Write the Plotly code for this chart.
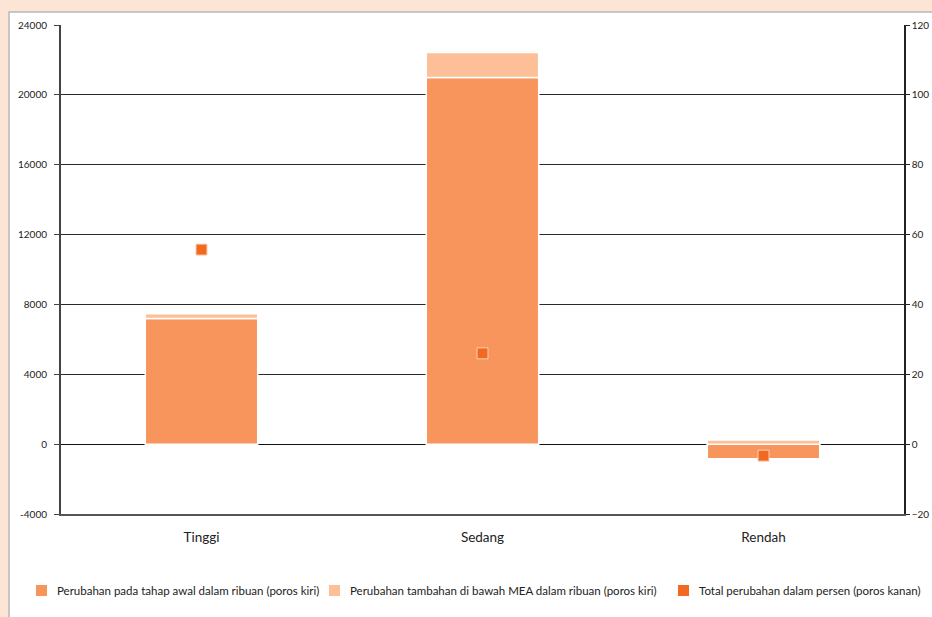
import plotly.graph_objects as go

categories = ["Tinggi", "Sedang", "Rendah"]
initial_change = [7200, 21000, -840]        # ribuan, poros kiri
additional_change = [260, 1420, 240]        # ribuan, poros kiri
total_pct = [55.7, 26.0, -3.3]              # persen, poros kanan

legend_names = [
    "Perubahan pada tahap awal dalam ribuan (poros kiri)",
    "Perubahan tambahan di bawah MEA dalam ribuan (poros kiri)",
    "Total perubahan dalam persen (poros kanan)",
]

left_ticks = [-4000, 0, 4000, 8000, 12000, 16000, 20000, 24000]
right_ticks = [-20, 0, 20, 40, 60, 80, 100, 120]

W, H = 932, 617
ML, MR, MT, MB = 61, 28, 25, 103
PW, PH = W - ML - MR, H - MT - MB

FONT = "Lato"
DARK, LIGHT, MARK = "#f7955c", "#fcbf98", "#f26a22"


def px_x(x):
    return (x - ML) / PW


def px_y(y):
    return 1 - (y - MT) / PH


fig = go.Figure()
fig.add_trace(go.Bar(
    x=categories, y=initial_change, name=legend_names[0],
    marker=dict(color=DARK, line=dict(color="white", width=1.5)),
    width=0.4,
))
fig.add_trace(go.Bar(
    x=categories, y=additional_change, name=legend_names[1],
    marker=dict(color=LIGHT, line=dict(color="white", width=1.5)),
    width=0.4,
))
fig.add_trace(go.Scatter(
    x=categories, y=total_pct, name=legend_names[2], yaxis="y2",
    mode="markers",
    marker=dict(symbol="square", size=11, color=MARK,
                line=dict(color="#fcd0b4", width=1)),
))

# white panel on a peach page
fig.add_shape(
    type="rect", xref="paper", yref="paper", layer="below",
    x0=px_x(9), x1=px_x(W + 5), y0=px_y(H + 10), y1=px_y(12),
    fillcolor="white", line=dict(color="#b8b8b8", width=1.5),
)

# legend row below the plot
legend_items = [(36, 55, DARK), (329, 348, LIGHT), (678, 697, MARK)]
for (sq_x, txt_x, col), name in zip(legend_items, legend_names):
    fig.add_shape(
        type="rect", xref="paper", yref="paper",
        x0=px_x(sq_x), x1=px_x(sq_x + 11), y0=px_y(596), y1=px_y(585),
        fillcolor=col, line=dict(width=0),
    )
    fig.add_annotation(
        text=name, xref="paper", yref="paper",
        x=px_x(txt_x), y=px_y(590.5), xanchor="left", yanchor="middle",
        showarrow=False, font=dict(family=FONT, size=11.5, color="#222"),
    )

fig.update_layout(
    width=W, height=H,
    margin=dict(l=ML, r=MR, t=MT, b=MB, autoexpand=False),
    paper_bgcolor="#fde5d6",
    plot_bgcolor="white",
    barmode="relative",
    font=dict(family=FONT, color="#222", size=11),
    showlegend=False,
    xaxis=dict(
        showline=True, linecolor="#555", linewidth=1.5,
        ticks="", ticklabelstandoff=10,
        tickfont=dict(family=FONT, size=13.5, color="#222"),
    ),
    yaxis=dict(
        range=[-4000, 24000], tickvals=left_ticks,
        ticktext=[str(v) for v in left_ticks],
        showgrid=True, gridcolor="#2a2a2a", gridwidth=1,
        zeroline=True, zerolinecolor="#111", zerolinewidth=1.2,
        showline=True, linecolor="#444", linewidth=2,
        ticks="outside", ticklen=5, tickcolor="#444",
        ticklabelstandoff=5,
        tickfont=dict(family=FONT, size=10, color="#222"),
    ),
    yaxis2=dict(
        overlaying="y", side="right",
        range=[-20, 120], tickvals=right_ticks,
        showgrid=False, zeroline=False,
        showline=True, linecolor="#222", linewidth=1.5,
        ticks="outside", ticklen=4, tickcolor="#222",
        tickfont=dict(family=FONT, size=10, color="#222"),
    ),
)

fig.write_html("out.html")
